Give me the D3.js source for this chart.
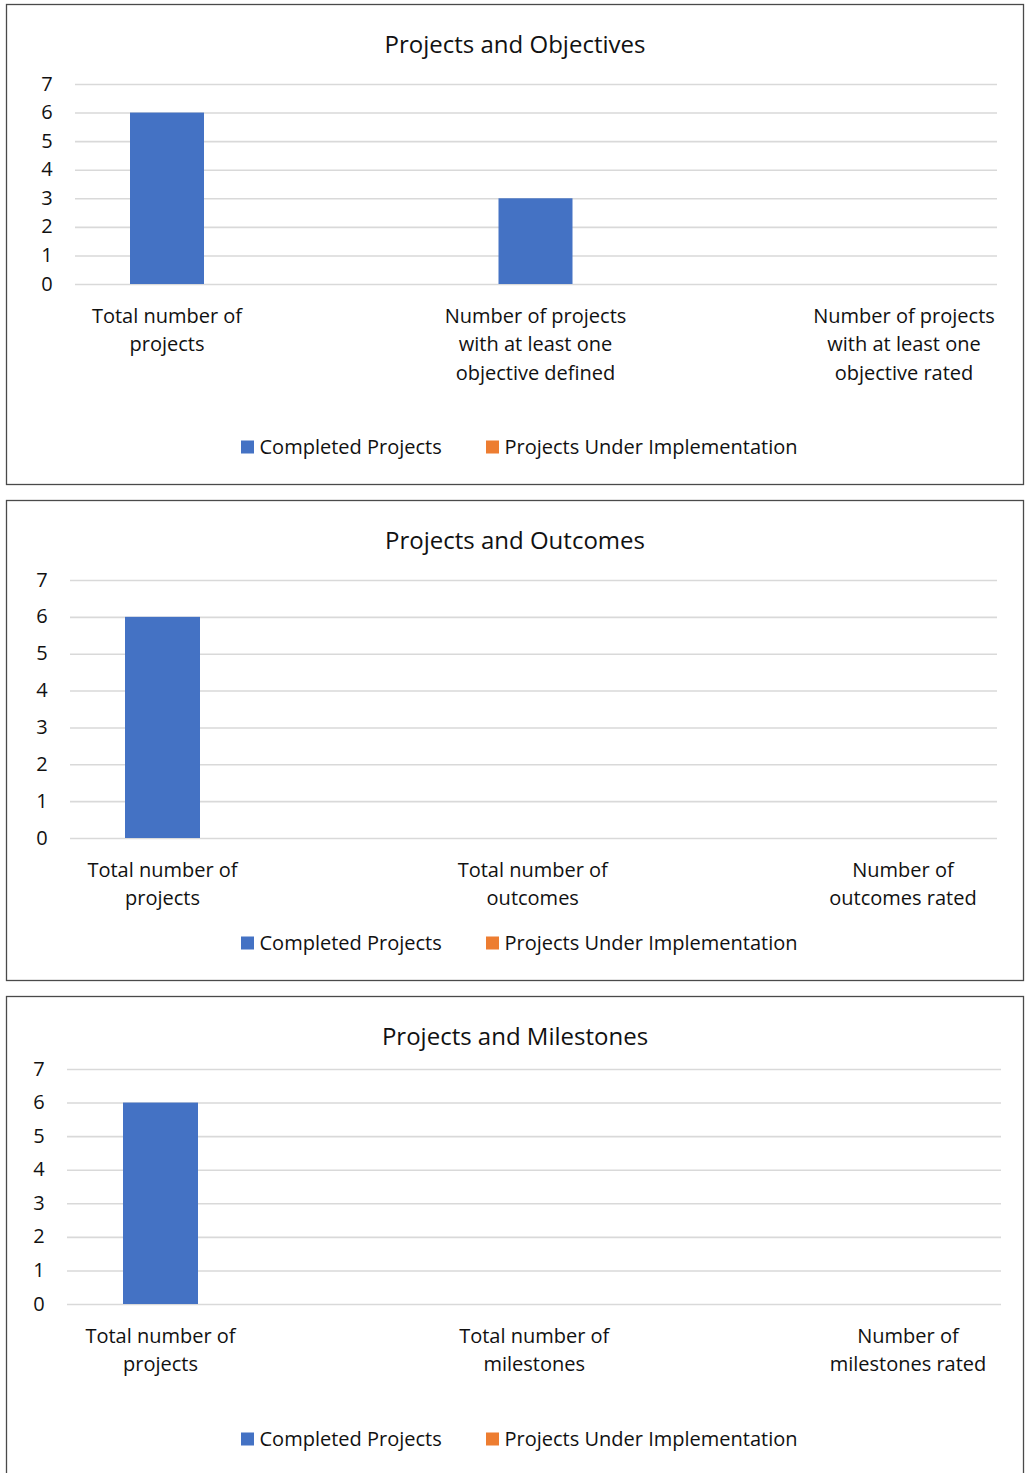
<!DOCTYPE html>
<html>
<head>
<meta charset="utf-8">
<script src="https://cdn.jsdelivr.net/npm/d3@7"></script>
<style>
  html, body { margin: 0; padding: 0; background: #fff; }
  svg { display: block; }
  text { font-family: "Open Sans", "Noto Sans", sans-serif; fill: #111; }
</style>
</head>
<body>
<svg id="chart" width="1029" height="1473"></svg>
<script>
// ---- Data ----
const seriesNames = ["Completed Projects", "Projects Under Implementation"];
const seriesColors = ["#4472C4", "#ED7D31"];
const yTicks = [0, 1, 2, 3, 4, 5, 6, 7];

const titleObjectives = "Projects and Objectives";
const categoriesObjectives = [
  ["Total number of", "projects"],
  ["Number of projects", "with at least one", "objective defined"],
  ["Number of projects", "with at least one", "objective rated"]
];
const completedObjectives = [6, 3, 0];
const underImplObjectives = [0, 0, 0];

const titleOutcomes = "Projects and Outcomes";
const categoriesOutcomes = [
  ["Total number of", "projects"],
  ["Total number of", "outcomes"],
  ["Number of", "outcomes rated"]
];
const completedOutcomes = [6, 0, 0];
const underImplOutcomes = [0, 0, 0];

const titleMilestones = "Projects and Milestones";
const categoriesMilestones = [
  ["Total number of", "projects"],
  ["Total number of", "milestones"],
  ["Number of", "milestones rated"]
];
const completedMilestones = [6, 0, 0];
const underImplMilestones = [0, 0, 0];

// ---- Layout (positions only) ----
const panels = [
  { title: titleObjectives, cats: categoriesObjectives, vals: [completedObjectives, underImplObjectives],
    box: [6, 4, 1017, 480], titleY: 43, gridX: [75, 997], yRange: [284, 84], xRange: [167, 904],
    tickX: 47, labelY: 315, lineH: 28.5, legendY: 446, barW: 74 },
  { title: titleOutcomes, cats: categoriesOutcomes, vals: [completedOutcomes, underImplOutcomes],
    box: [6, 500, 1017, 480], titleY: 539, gridX: [70, 997], yRange: [838, 580], xRange: [162.5, 903],
    tickX: 42, labelY: 869, lineH: 28.5, legendY: 942, barW: 75 },
  { title: titleMilestones, cats: categoriesMilestones, vals: [completedMilestones, underImplMilestones],
    box: [6, 996, 1017, 480], titleY: 1035, gridX: [67, 1001], yRange: [1304, 1069], xRange: [160.5, 908],
    tickX: 39, labelY: 1335, lineH: 28.5, legendY: 1438, barW: 75 }
];

const svg = d3.select("#chart");

panels.forEach(p => {
  const g = svg.append("g");
  // frame
  g.append("rect")
    .attr("x", p.box[0] + 0.5).attr("y", p.box[1] + 0.5)
    .attr("width", p.box[2]).attr("height", p.box[3])
    .attr("fill", "#fff").attr("stroke", "#4a4a4a").attr("stroke-width", 1.3);

  // title
  g.append("text")
    .attr("x", 515).attr("y", p.titleY)
    .attr("text-anchor", "middle").attr("dominant-baseline", "central")
    .style("font-size", "24px")
    .text(p.title);

  const y = d3.scaleLinear().domain([0, 7]).range(p.yRange);
  const x = d3.scalePoint().domain(d3.range(p.cats.length)).range(p.xRange);

  // gridlines
  const yAxis = d3.axisLeft(y).tickValues(yTicks).tickSize(-(p.gridX[1] - p.gridX[0])).tickFormat(d3.format("d"));
  const ag = g.append("g").attr("transform", `translate(${p.gridX[0]},0)`).call(yAxis);
  ag.select(".domain").remove();
  ag.selectAll(".tick line").attr("stroke", "#d9d9d9").attr("stroke-width", 1.6);
  ag.selectAll(".tick text")
    .attr("x", p.tickX - p.gridX[0]).attr("text-anchor", "middle")
    .attr("dy", "0.3em")
    .style("font-size", "20px").style("font-family", '"Open Sans", "Noto Sans", sans-serif')
    .attr("fill", "#111");

  // bars
  p.vals.forEach((vals, si) => {
    g.append("g").selectAll("rect").data(vals).join("rect")
      .attr("x", (d, i) => x(i) - p.barW / 2 + si * p.barW)
      .attr("y", d => y(d))
      .attr("width", p.barW)
      .attr("height", d => y(0) - y(d))
      .attr("fill", seriesColors[si]);
  });

  // category labels
  p.cats.forEach((lines, i) => {
    const t = g.append("text")
      .attr("x", x(i)).attr("y", p.labelY)
      .attr("text-anchor", "middle")
      .style("font-size", "20px");
    lines.forEach((ln, li) => {
      t.append("tspan").attr("x", x(i)).attr("y", p.labelY + li * p.lineH)
        .attr("dominant-baseline", "central").text(ln);
    });
  });

  // legend
  const legendX = [241, 486];
  seriesNames.forEach((nm, si) => {
    g.append("rect").attr("x", legendX[si]).attr("y", p.legendY - 5.5)
      .attr("width", 13).attr("height", 13).attr("fill", seriesColors[si]);
    g.append("text").attr("x", legendX[si] + 18.5).attr("y", p.legendY)
      .attr("dominant-baseline", "central")
      .style("font-size", "20px").text(nm);
  });
});
</script>
</body>
</html>
